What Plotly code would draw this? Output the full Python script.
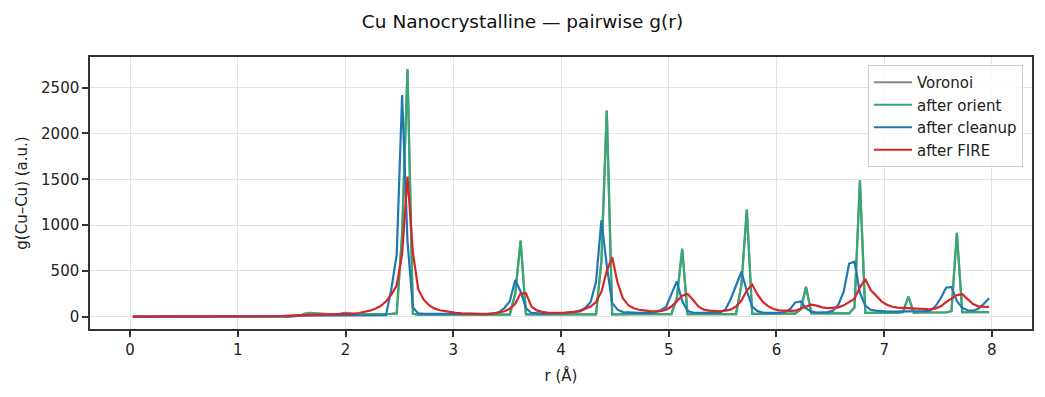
import plotly.graph_objects as go

# r bin centres (Å)
R = [0.025, 0.075, 0.125, 0.175, 0.225, 0.275, 0.325, 0.375, 0.425, 0.475,
     0.525, 0.575, 0.625, 0.675, 0.725, 0.775, 0.825, 0.875, 0.925, 0.975,
     1.025, 1.075, 1.125, 1.175, 1.225, 1.275, 1.325, 1.375, 1.425, 1.475,
     1.525, 1.575, 1.625, 1.675, 1.725, 1.775, 1.825, 1.875, 1.925, 1.975,
     2.025, 2.075, 2.125, 2.175, 2.225, 2.275, 2.325, 2.375, 2.425, 2.475,
     2.525, 2.575, 2.625, 2.675, 2.725, 2.775, 2.825, 2.875, 2.925, 2.975,
     3.025, 3.075, 3.125, 3.175, 3.225, 3.275, 3.325, 3.375, 3.425, 3.475,
     3.525, 3.575, 3.625, 3.675, 3.725, 3.775, 3.825, 3.875, 3.925, 3.975,
     4.025, 4.075, 4.125, 4.175, 4.225, 4.275, 4.325, 4.375, 4.425, 4.475,
     4.525, 4.575, 4.625, 4.675, 4.725, 4.775, 4.825, 4.875, 4.925, 4.975,
     5.025, 5.075, 5.125, 5.175, 5.225, 5.275, 5.325, 5.375, 5.425, 5.475,
     5.525, 5.575, 5.625, 5.675, 5.725, 5.775, 5.825, 5.875, 5.925, 5.975,
     6.025, 6.075, 6.125, 6.175, 6.225, 6.275, 6.325, 6.375, 6.425, 6.475,
     6.525, 6.575, 6.625, 6.675, 6.725, 6.775, 6.825, 6.875, 6.925, 6.975,
     7.025, 7.075, 7.125, 7.175, 7.225, 7.275, 7.325, 7.375, 7.425, 7.475,
     7.525, 7.575, 7.625, 7.675, 7.725, 7.775, 7.825, 7.875, 7.925, 7.975]

VORONOI = [
    0, 0, 0, 0, 0, 0, 0, 0, 0, 0,
    0, 0, 0, 0, 0, 0, 0, 0, 0, 0,
    0, 0, 0, 0, 0, 0, 0, 0, 0, 0,
    5, 10, 35, 42, 38, 28, 22, 22, 22, 38,
    40, 30, 25, 25, 25, 25, 25, 28, 30, 35,
    900, 2700, 30, 22, 22, 22, 22, 22, 22, 22,
    22, 22, 22, 22, 22, 22, 22, 22, 22, 22,
    22, 250, 830, 25, 25, 25, 25, 25, 25, 25,
    25, 25, 25, 25, 25, 25, 25, 600, 2250, 25,
    27, 27, 27, 27, 27, 27, 27, 27, 27, 27,
    27, 200, 740, 28, 28, 28, 28, 28, 28, 28,
    28, 28, 28, 350, 1170, 30, 32, 32, 32, 32,
    32, 32, 32, 32, 80, 325, 35, 35, 35, 35,
    35, 35, 35, 35, 100, 1490, 40, 42, 42, 42,
    42, 42, 42, 50, 220, 42, 45, 45, 45, 45,
    45, 45, 60, 915, 48, 50, 50, 50, 50, 50]

ORIENT = [
    0, 0, 0, 0, 0, 0, 0, 0, 0, 0,
    0, 0, 0, 0, 0, 0, 0, 0, 0, 0,
    0, 0, 0, 0, 0, 0, 0, 0, 0, 0,
    5, 10, 25, 30, 28, 22, 22, 22, 22, 25,
    25, 24, 25, 25, 25, 25, 25, 28, 30, 35,
    900, 2700, 30, 22, 22, 22, 22, 22, 22, 22,
    22, 22, 22, 22, 22, 22, 22, 22, 22, 22,
    22, 250, 830, 25, 25, 25, 25, 25, 25, 25,
    25, 25, 25, 25, 25, 25, 25, 600, 2250, 25,
    27, 27, 27, 27, 27, 27, 27, 27, 27, 27,
    27, 200, 740, 28, 28, 28, 28, 28, 28, 28,
    28, 28, 28, 350, 1170, 30, 32, 32, 32, 32,
    32, 32, 32, 32, 80, 325, 35, 35, 35, 35,
    35, 35, 35, 35, 100, 1490, 40, 42, 42, 42,
    42, 42, 42, 50, 220, 42, 45, 45, 45, 45,
    45, 45, 60, 915, 48, 50, 50, 50, 50, 50]

CLEANUP = [
    0, 0, 0, 0, 0, 0, 0, 0, 0, 0,
    0, 0, 0, 0, 0, 0, 0, 0, 0, 0,
    0, 0, 0, 0, 0, 0, 0, 0, 0, 0,
    10, 10, 10, 10, 10, 10, 10, 10, 10, 10,
    10, 10, 10, 10, 10, 10, 10, 15, 300, 680,
    2420, 820, 100, 35, 30, 30, 30, 30, 30, 30,
    30, 30, 30, 30, 30, 30, 30, 30, 50, 94,
    170, 400, 275, 94, 40, 32, 32, 32, 32, 32,
    38, 45, 50, 65, 94, 160, 380, 1050, 560, 148,
    76, 50, 45, 40, 40, 40, 40, 50, 70, 105,
    240, 385, 170, 60, 45, 40, 40, 40, 40, 45,
    75, 190, 340, 490, 280, 110, 60, 45, 40, 40,
    40, 50, 80, 155, 165, 90, 55, 45, 45, 50,
    65, 130, 275, 580, 600, 260, 120, 75, 65, 58,
    55, 55, 55, 55, 55, 55, 58, 60, 65, 110,
    200, 315, 325, 170, 95, 70, 65, 85, 140, 200]

FIRE = [
    0, 0, 0, 0, 0, 0, 0, 0, 0, 0,
    0, 0, 0, 0, 0, 0, 0, 0, 0, 0,
    0, 0, 0, 0, 0, 3, 4, 6, 8, 10,
    12, 12, 13, 14, 15, 16, 18, 20, 22, 25,
    28, 32, 40, 50, 65, 85, 115, 165, 240, 340,
    680, 1530, 700, 300, 185, 125, 90, 70, 58, 48,
    42, 36, 32, 29, 27, 27, 30, 36, 45, 58,
    87, 140, 255, 255, 112, 68, 52, 45, 40, 40,
    42, 45, 50, 58, 85, 110, 160, 270, 500, 650,
    370, 200, 125, 92, 75, 65, 60, 58, 60, 75,
    110, 167, 228, 246, 185, 112, 76, 65, 58, 58,
    65, 76, 112, 175, 285, 350, 239, 160, 112, 83,
    69, 62, 62, 65, 87, 112, 130, 120, 101, 94,
    94, 101, 123, 155, 195, 320, 410, 290, 232, 167,
    130, 108, 98, 94, 98, 94, 87, 80, 80, 87,
    112, 159, 200, 235, 245, 196, 138, 112, 105, 105]

SERIES = [
    ("Voronoi", VORONOI, "#888888"),
    ("after orient", ORIENT, "#36a874"),
    ("after cleanup", CLEANUP, "#1f77b4"),
    ("after FIRE", FIRE, "#d62728"),
]

X_TICKS = [0, 1, 2, 3, 4, 5, 6, 7, 8]
Y_TICKS = [0, 500, 1000, 1500, 2000, 2500]

fig = go.Figure()
for name, vals, col in SERIES:
    fig.add_trace(go.Scatter(x=R, y=vals, mode="lines", name=name,
                             line=dict(color=col, width=2.2)))

axis_common = dict(showline=True, mirror=True, linecolor="#333333", linewidth=1.5,
                   ticks="outside", ticklen=6, tickwidth=1.5, tickcolor="#333333",
                   showgrid=True, gridcolor="#e3e3e3", gridwidth=1.2, zeroline=False,
                   tickfont=dict(size=15, color="#222222"))

fig.update_layout(
    width=1045, height=397,
    margin=dict(l=90, r=13, t=57, b=68),
    paper_bgcolor="white", plot_bgcolor="white",
    font=dict(family="DejaVu Sans", color="#222222", size=15),
    title=dict(text="Cu Nanocrystalline — pairwise g(r)", x=0.5, xanchor="center",
               y=1 - 22 / 397, yanchor="middle", font=dict(size=18.5, color="#111111")),
    xaxis=dict(range=[-0.3725, 8.3725], tickvals=X_TICKS,
               title=dict(text="r (Å)", standoff=13, font=dict(size=15)), **axis_common),
    yaxis=dict(range=[-135, 2835], tickvals=Y_TICKS,
               title=dict(text="g(Cu–Cu) (a.u.)", standoff=10, font=dict(size=15)), **axis_common),
    legend=dict(x=0.9904, xanchor="right", y=0.9706, yanchor="top",
                bgcolor="rgba(255,255,255,0.85)", bordercolor="#cccccc", borderwidth=1,
                font=dict(size=15), tracegroupgap=0, itemwidth=38),
    showlegend=True,
)

fig.write_html("out.html")
